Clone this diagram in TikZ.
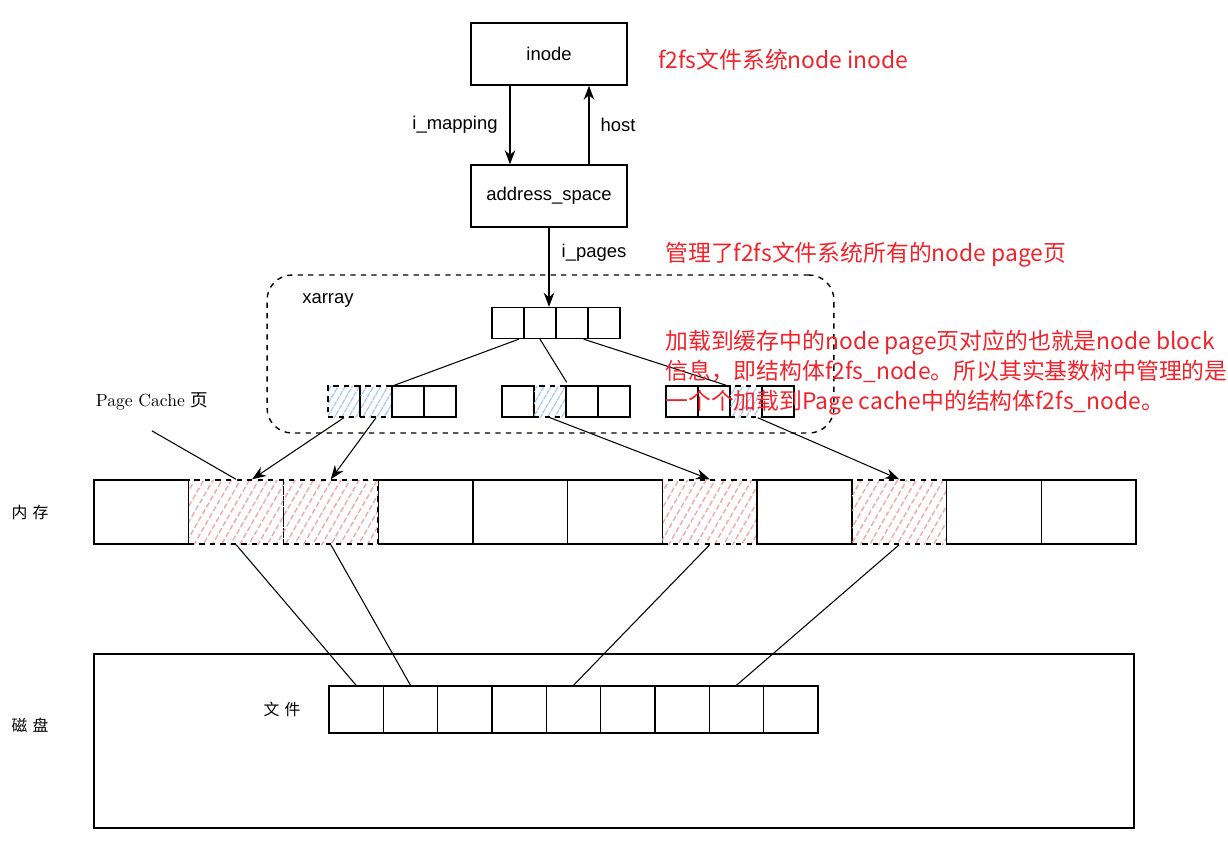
\documentclass[tikz,border=0pt]{standalone}
\usepackage{fontspec}
\newfontfamily\cjk{Noto Sans CJK SC}
\newfontfamily\arial{Liberation Sans}
\usepackage{tikz}
\usetikzlibrary{calc,arrows.meta,patterns.meta}
\definecolor{redtxt}{HTML}{F0232B}
\definecolor{pinkhatch}{HTML}{F2A9A6}
\definecolor{bluehatch}{HTML}{A9C7EF}

\begin{document}
\begin{tikzpicture}
[x=0.02cm, y=-0.02cm,
 box/.style={draw, thick, minimum width=3.12cm, minimum height=1.24cm, font=\arial\fontsize{10.5}{12}\selectfont},
 lbl/.style={font=\arial\fontsize{10.5}{12}\selectfont},
 note/.style={anchor=west, text=redtxt, inner sep=0pt, align=left, font=\cjk\fontsize{13}{17}\selectfont},
 side/.style={font=\cjk\fontsize{9}{11}\selectfont},
 mem/.style={draw, thick, minimum width=1.894cm, minimum height=1.28cm, inner sep=0pt},
 memhot/.style={mem, dashed, pattern={Lines[angle=60,distance=4.5pt,line width=0.8pt]}, pattern color=pinkhatch},
 blk/.style={draw, thick, minimum width=1.087cm, minimum height=0.94cm, inner sep=0pt},
 slot/.style={draw, thick, minimum width=0.64cm, minimum height=0.62cm, inner sep=0pt},
 slothot/.style={slot, dashed, pattern={Lines[angle=60,distance=3.5pt,line width=0.7pt]}, pattern color=bluehatch},
 link/.style={semithick},
 ptr/.style={semithick, -{Stealth[length=8pt,width=6pt]}}]
    \useasboundingbox (0,0) rectangle (1228,849);
    % inode and address_space
    \node[box] (inode) at (549,54) {inode};
    \node[box] (as) at (549,196) {address\_space};
    \node[lbl] (imap) at (455,125) {i\_mapping};
    \node[lbl] (host) at (618,125) {host};
    \node[lbl] (ipg) at (594,253) {i\_pages};
    \draw[ptr] ([xshift=-0.78cm]inode.south) -- ([xshift=-0.78cm]as.north);
    \draw[ptr] ([xshift=0.8cm]as.north) -- ([xshift=0.8cm]inode.south);
    % xarray
    \node[draw, thick, dashed, rounded corners=0.5cm, minimum width=11.34cm, minimum height=3.16cm] (xa) at (550.5,354) {};
    \node[lbl] (xal) at (328,300) {xarray};
    \foreach \i in {1,...,4}
        \node[slot] (t\i) at ({492+32*(\i-0.5)},323) {};
    \foreach \i/\s in {1/slothot,2/slothot,3/slot,4/slot}
        \node[\s] (a\i) at ({328+32*(\i-0.5)},401.5) {};
    \foreach \i/\s in {1/slot,2/slothot,3/slot,4/slot}
        \node[\s] (b\i) at ({502+32*(\i-0.5)},401.5) {};
    \foreach \i/\s in {1/slot,2/slot,3/slothot,4/slot}
        \node[\s] (c\i) at ({666+32*(\i-0.5)},401.5) {};
    \draw[ptr] (as.south) -- (as.south |- t2.north);
    \draw[link] ($(t1.south east)+(-6,0)$) -- ($(a3.north west)+(3,0)$);
    \draw[link] (t2.south) -- ($(b2.north east)+(0,-3)$);
    \draw[link] ($(t3.south east)+(-5,0)$) -- ($(c3.north west)+(-3,0)$);
    % red notes
    \node[note] (n1) at (658,60) {f2fs文件系统node inode};
    \node[note] (n2) at (665,255) {管理了f2fs文件系统所有的node page页};
    \node[note] (n3) at (665,373) {加载到缓存中的node page页对应的也就是node block\\信息，即结构体f2fs\_node。所以其实基数树中管理的是\\一个个加载到Page cache中的结构体f2fs\_node。};
    % memory
    \node[side] (ram) at (30,512) {内\hspace{3pt}存};
    \foreach \i/\s in {1/mem,2/memhot,3/memhot,4/mem,5/mem,6/mem,7/memhot,8/mem,9/memhot,10/mem,11/mem}
        \node[\s] (m\i) at ({94+94.73*(\i-0.5)},512) {};
    \node (pc) at (152,401) {\fontsize{10}{12}\selectfont Page Cache {\cjk 页}};
    \draw[link] ([yshift=-0.3cm]pc.south) -- (m2.north);
    \draw[ptr] (a1.south) -- ($(m2.north)+(16,0)$);
    \draw[ptr] (a2.south) -- (m3.north);
    \draw[ptr] (b2.south) -- (m7.north);
    \draw[ptr] ($(c3.south east)+(-5,0)$) -- (m9.north);
    % disk
    \node[draw, thick, minimum width=20.8cm, minimum height=3.48cm] (disk) at (614,741) {};
    \node[side] (dsk) at (30,725) {磁\hspace{3pt}盘};
    \node[side] (file) at (282,709) {文\hspace{3pt}件};
    \foreach \i in {1,...,9}
        \node[blk] (f\i) at ({329+54.33*(\i-0.5)},709.5) {};
    \draw[link] (m2.south) -- (f1.north);
    \draw[link] (m3.south) -- (f2.north);
    \draw[link] (m7.south) -- (f5.north);
    \draw[link] (m9.south) -- (f8.north);
\end{tikzpicture}
\end{document}
